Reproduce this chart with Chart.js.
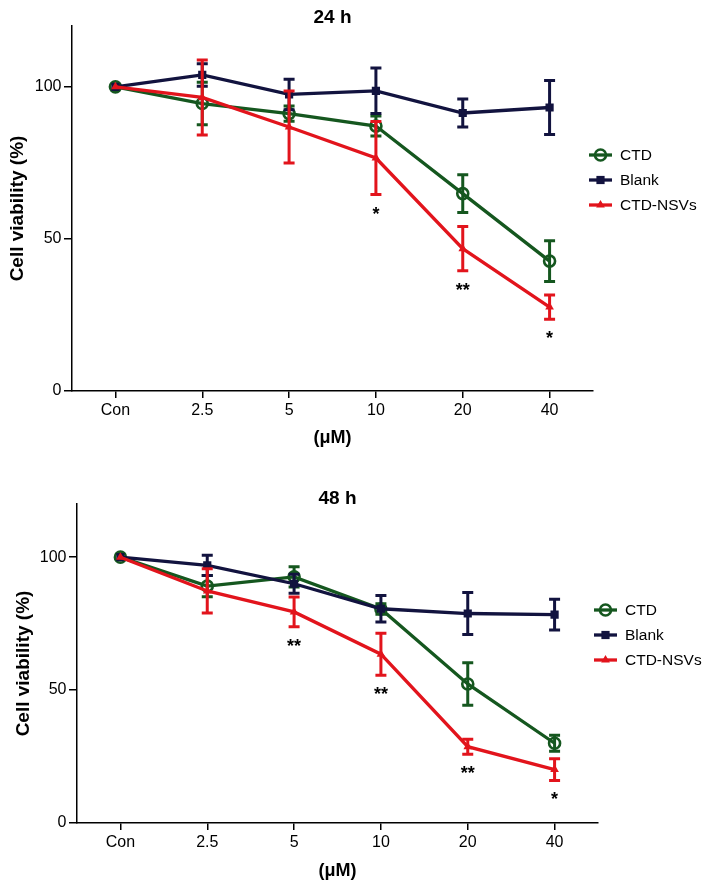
<!DOCTYPE html>
<html><head><meta charset="utf-8">
<script src="https://cdn.jsdelivr.net/npm/chart.js@4/dist/chart.umd.min.js"></script>
<style>
html,body{margin:0;padding:0;background:#fff;}
#wrap{width:713px;height:890px;position:relative;background:#fff;}
.box{position:absolute;left:0;width:713px;}
#b1{top:0;height:449px;}
#b2{top:449px;height:441px;}
</style></head><body>
<div id="wrap">
  <div class="box" id="b1"><canvas id="c1"></canvas></div>
  <div class="box" id="b2"><canvas id="c2"></canvas></div>
</div>
<script>
// ---- data ----
const categories = ['Con', '2.5', '5', '10', '20', '40'];
const seriesNames = ['CTD', 'Blank', 'CTD-NSVs'];
const yTickValues = [0, 50, 100];

const ctd24 = [100, 94.5, 91.2, 87.1, 64.9, 42.7];
const ctd24Err = [0, 7.0, 2.5, 3.3, 6.2, 6.7];
const blank24 = [100, 103.9, 97.5, 98.7, 91.4, 93.2];
const blank24Err = [0, 3.7, 5.0, 7.5, 4.6, 8.9];
const nsv24 = [100, 96.5, 86.8, 76.6, 46.8, 27.6];
const nsv24Err = [0, 12.3, 11.8, 12.0, 7.3, 4.0];
const sig24 = ['', '', '', '*', '**', '*'];

const ctd48 = [100, 89.1, 92.6, 80.5, 52.3, 30.0];
const ctd48Err = [0, 4.0, 3.8, 2.0, 8.0, 3.0];
const blank48 = [100, 96.9, 90.0, 80.6, 78.8, 78.4];
const blank48Err = [0, 3.8, 3.6, 5.0, 7.9, 5.8];
const nsv48 = [100, 87.3, 79.4, 63.5, 28.7, 20.1];
const nsv48Err = [0, 8.3, 5.6, 7.9, 2.8, 4.1];
const sig48 = ['', '', '**', '**', '**', '*'];

// ---- styling ----
const FONT = '"Liberation Sans", Arial, Helvetica, sans-serif';
Chart.defaults.font.family = FONT;
Chart.defaults.color = '#000';
const colors = ['#15571f', '#12133f', '#e2141c'];
const pointStyles = ['circle', 'rect', 'triangle'];
const pointRadii = [5.5, 5.8, 5];
const pointFills = ['rgba(0,0,0,0)', '#12133f', '#e2141c'];

function drawMarker(ctx, style, x, y, r, color, fill) {
  ctx.save();
  ctx.strokeStyle = color; ctx.fillStyle = fill; ctx.lineWidth = 2.6;
  ctx.beginPath();
  if (style === 'circle') {
    ctx.arc(x, y, r, 0, Math.PI * 2);
    ctx.stroke();
  } else if (style === 'rect') {
    const s = r * Math.SQRT1_2;
    ctx.rect(x - s, y - s, 2 * s, 2 * s);
    ctx.fill();
  } else {
    ctx.moveTo(x, y - r); ctx.lineTo(x + r * 0.87, y + r * 0.5); ctx.lineTo(x - r * 0.87, y + r * 0.5);
    ctx.closePath(); ctx.fill();
  }
  ctx.restore();
}

const extras = {
  id: 'extras',
  afterDatasetDraw(chart, args) {
    const ds = chart.data.datasets[args.index];
    const y = chart.scales.y;
    const ctx = chart.ctx;
    ctx.save();
    ctx.strokeStyle = ds.borderColor;
    ctx.lineWidth = 3;
    args.meta.data.forEach((pt, i) => {
      const e = ds.errors[i];
      if (!e) return;
      const v = ds.data[i];
      const yt = y.getPixelForValue(v + e), yb = y.getPixelForValue(v - e);
      ctx.beginPath();
      ctx.moveTo(pt.x, yt); ctx.lineTo(pt.x, yb);
      ctx.moveTo(pt.x - 5.5, yt); ctx.lineTo(pt.x + 5.5, yt);
      ctx.moveTo(pt.x - 5.5, yb); ctx.lineTo(pt.x + 5.5, yb);
      ctx.stroke();
    });
    ctx.restore();
  },
  afterDraw(chart, args, opts) {
    const ctx = chart.ctx;
    const ca = chart.chartArea;
    const y = chart.scales.y;
    // significance marks under CTD-NSVs
    const red = chart.data.datasets[2];
    const meta = chart.getDatasetMeta(2);
    ctx.save();
    ctx.fillStyle = '#000';
    ctx.font = 'bold 18px ' + FONT;
    ctx.textAlign = 'center';
    ctx.textBaseline = 'alphabetic';
    opts.sig.forEach((s, i) => {
      if (!s) return;
      const yb = y.getPixelForValue(red.data[i] - red.errors[i]);
      ctx.fillText(s, meta.data[i].x, yb + 25);
    });
    // legend
    const cy = (ca.top + ca.bottom) / 2;
    ctx.font = '15.5px ' + FONT;
    ctx.textAlign = 'left';
    ctx.textBaseline = 'middle';
    chart.data.datasets.forEach((ds, i) => {
      const ly = cy - 53.5 + i * 25;
      const x1 = ca.right - 4, x2 = ca.right + 19;
      ctx.strokeStyle = ds.borderColor; ctx.lineWidth = 3.3;
      ctx.beginPath(); ctx.moveTo(x1, ly); ctx.lineTo(x2, ly); ctx.stroke();
      drawMarker(ctx, pointStyles[i], (x1 + x2) / 2, ly, pointRadii[i], colors[i], pointFills[i]);
      ctx.fillStyle = '#000';
      ctx.fillText(ds.label, ca.right + 27, ly + 1);
    });
    ctx.restore();
  }
};

function makeChart(id, titleText, series, errs, sig, L) {
  const datasets = series.map((d, i) => ({
    label: seriesNames[i],
    data: d,
    errors: errs[i],
    borderColor: colors[i],
    backgroundColor: pointFills[i],
    pointBackgroundColor: pointFills[i],
    pointBorderColor: colors[i],
    pointStyle: pointStyles[i],
    pointRadius: pointRadii[i],
    pointBorderWidth: i === 0 ? 2.6 : 0,
    borderWidth: 3.3,
    tension: 0,
    order: 3 - i
  }));
  return new Chart(document.getElementById(id), {
    type: 'line',
    data: { labels: categories, datasets },
    plugins: [extras],
    options: {
      responsive: true,
      maintainAspectRatio: false,
      animation: false,
      devicePixelRatio: 1,
      layout: { padding: { left: 0, right: L.right, top: 0, bottom: L.bottom } },
      plugins: {
        legend: { display: false },
        tooltip: { enabled: false },
        title: {
          display: true, text: titleText, fullSize: false, color: '#000',
          font: { family: FONT, size: 19, weight: 'bold', lineHeight: 0.5 },
          padding: { top: L.titleTop, bottom: L.titleBottom }
        },
        extras: { sig }
      },
      scales: {
        x: {
          type: 'category', offset: true,
          grid: { display: true, drawOnChartArea: false, drawTicks: true, tickLength: 7, lineWidth: 1.5, color: '#000' },
          border: { display: true, color: '#000', width: 1.5 },
          ticks: { color: '#000', font: { family: FONT, size: 16 }, padding: 2.5, maxRotation: 0, autoSkip: false },
          title: { display: true, text: '(μM)', color: '#000', font: { family: FONT, size: 18, weight: 'bold' }, padding: { top: 0, bottom: 0 } },
          afterFit: s => { s.height = L.xh; }
        },
        y: {
          min: 0, max: 120,
          afterBuildTicks: s => { s.ticks = yTickValues.map(v => ({ value: v })); },
          grid: { display: true, drawOnChartArea: false, drawTicks: true, tickLength: 8, lineWidth: 1.5, color: '#000' },
          border: { display: true, color: '#000', width: 1.5 },
          ticks: { color: '#000', font: { family: FONT, size: 16 }, padding: 2.5 },
          title: { display: true, text: 'Cell viability (%)', color: '#000', font: { family: FONT, size: 19, weight: 'bold' }, padding: { top: L.ytp, bottom: 0 } },
          afterFit: s => { s.width = L.yw; }
        }
      }
    }
  });
}

makeChart('c1', '24 h', [ctd24, blank24, nsv24], [ctd24Err, blank24Err, nsv24Err], sig24,
  { right: 120, bottom: 0, titleTop: 12.75, titleBottom: 3.75, xh: 58, yw: 72, ytp: 6 });
makeChart('c2', '48 h', [ctd48, blank48, nsv48], [ctd48Err, blank48Err, nsv48Err], sig48,
  { right: 115, bottom: 8.2, titleTop: 45.25, titleBottom: 0.25, xh: 58.8, yw: 77, ytp: 12 });
</script>
</body></html>
